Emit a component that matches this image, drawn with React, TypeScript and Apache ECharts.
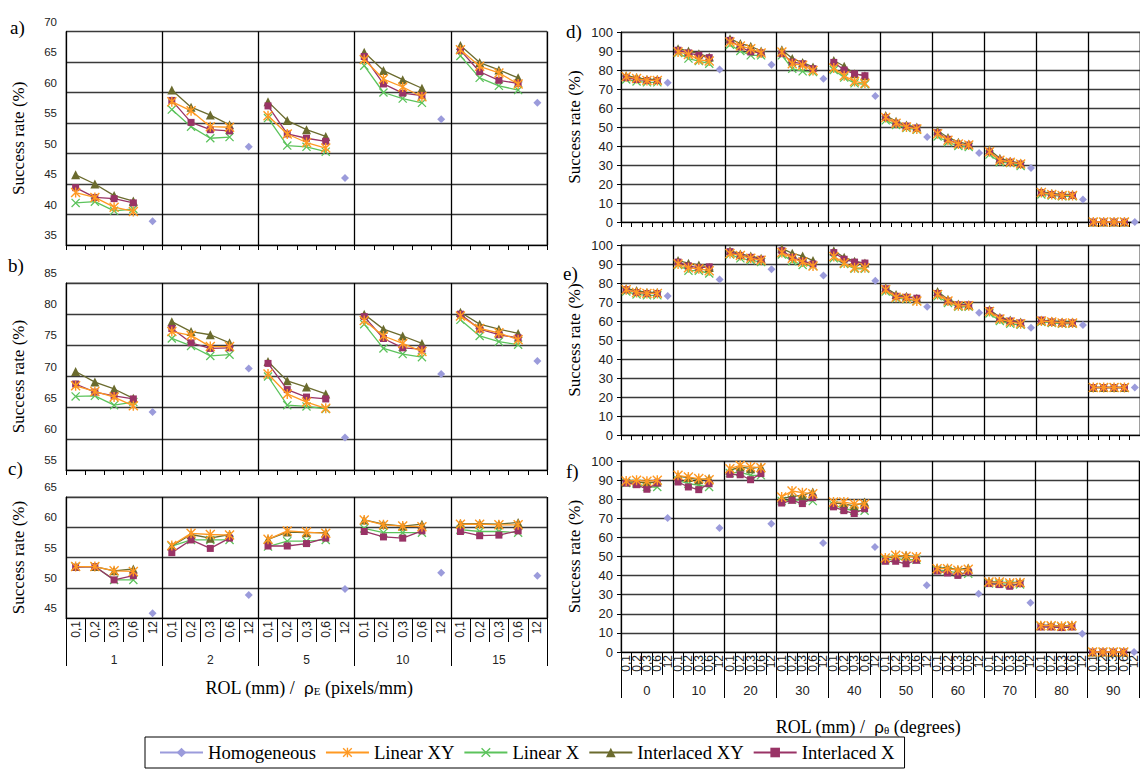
import React, { useEffect, useRef } from 'react';
import * as echarts from 'echarts';

// ---------- categories ----------
const subLabels = ['0,1', '0,2', '0,3', '0,6', '12'];
const leftGroups = ['1', '2', '5', '10', '15'];
const rightGroups = ['0', '10', '20', '30', '40', '50', '60', '70', '80', '90'];
const seriesNames = ['Homogeneous', 'Linear XY', 'Linear X', 'Interlaced XY', 'Interlaced X'];

// ---------- panel a ----------
const aHomog = [38.9, 51.1, 46.0, 55.6, 58.3];
const aLinearXY = [[43.6, 42.8, 41.2, 40.5], [58.5, 57.0, 54.4, 54.3], [56.2, 53.2, 51.8, 50.9], [65.4, 62.2, 60.9, 59.3], [67.0, 64.3, 63.2, 61.4]];
const aLinearX = [[41.9, 42.1, 40.6, 40.9], [57.2, 54.4, 52.5, 52.7], [55.8, 51.3, 51.1, 50.3], [64.4, 60.0, 59.0, 58.3], [66.0, 62.4, 61.1, 60.4]];
const aInterXY = [[46.5, 45.0, 43.1, 42.2], [60.4, 57.6, 56.3, 54.7], [58.5, 55.4, 53.9, 52.8], [66.6, 63.6, 62.1, 60.7], [67.7, 64.9, 63.7, 62.4]];
const aInterX = [[44.4, 42.8, 42.6, 41.9], [58.7, 55.1, 53.9, 53.7], [57.8, 53.2, 52.5, 52.0], [65.9, 61.4, 59.9, 59.5], [66.9, 63.4, 62.0, 61.5]];

// ---------- panel b ----------
const bHomog = [64.3, 71.3, 60.2, 70.4, 72.5];
const bLinearXY = [[68.5, 67.6, 66.7, 65.3], [77.2, 76.6, 74.8, 74.8], [70.4, 67.2, 65.9, 64.9], [79.0, 76.5, 75.3, 74.0], [79.7, 77.7, 77.0, 75.9]];
const bLinearX = [[66.8, 66.9, 65.4, 65.9], [76.1, 74.9, 73.3, 73.5], [70.0, 65.4, 65.2, 64.8], [78.4, 74.5, 73.6, 73.1], [79.1, 76.5, 75.6, 75.1]];
const bInterXY = [[70.8, 69.1, 68.0, 66.5], [78.8, 77.2, 76.7, 75.4], [72.4, 69.3, 68.3, 67.2], [80.0, 77.6, 76.5, 75.3], [80.3, 78.4, 77.6, 76.9]];
const bInterX = [[68.8, 67.5, 66.9, 66.4], [77.7, 75.4, 74.5, 74.6], [72.1, 67.9, 66.7, 66.4], [79.6, 76.1, 74.6, 74.4], [80.0, 77.6, 76.7, 76.2]];

// ---------- panel c ----------
const cHomog = [45.8, 48.8, 49.8, 52.5, 52.0];
const cLinearXY = [[53.5, 53.5, 52.8, 52.7], [57.0, 59.0, 58.8, 58.7], [58.0, 59.4, 59.2, 59.0], [61.2, 60.4, 60.2, 60.1], [60.5, 60.5, 60.4, 60.4]];
const cLinearX = [[53.5, 53.5, 51.3, 51.3], [56.9, 57.9, 57.9, 57.9], [56.8, 57.7, 57.7, 57.9], [59.8, 59.1, 59.1, 59.1], [59.6, 59.3, 59.3, 59.1]];
const cInterXY = [[53.5, 53.5, 52.8, 53.1], [56.9, 58.8, 58.2, 58.8], [58.0, 59.2, 59.1, 59.1], [61.2, 60.5, 60.2, 60.5], [60.6, 60.6, 60.5, 60.8]];
const cInterX = [[53.4, 53.5, 51.3, 52.0], [55.8, 57.9, 56.5, 58.2], [56.9, 56.9, 57.3, 58.2], [59.3, 58.4, 58.2, 59.4], [59.3, 58.6, 58.7, 59.4]];

// ---------- panel d ----------
const dHomog = [73.3, 80.2, 82.8, 75.4, 66.3, 44.7, 36.3, 28.4, 11.9, 0];
const dLinearXY = [[76.5, 75.5, 74.5, 74.5], [89.5, 88.2, 85.4, 84.7], [94.7, 92.6, 91.2, 89.0], [89.5, 83.3, 82.5, 79.8], [81, 77, 74, 73], [55, 52, 50, 49], [46.5, 43, 41, 40.5], [37, 32.5, 31.5, 30.5], [15.5, 14.5, 14, 14], [0, 0, 0, 0]];
const dLinearX = [[75, 74, 73.5, 73.5], [89, 86, 84.7, 83.3], [93.3, 90, 87.7, 87.7], [87.7, 80.7, 79.3, 78.9], [80, 76, 73, 72.5], [53.5, 51, 49.5, 48.5], [45, 42, 40, 39.5], [35.5, 31.5, 31, 29.5], [14.5, 14, 13.5, 13.5], [0, 0, 0, 0]];
const dInterXY = [[77, 76, 75, 75], [91.2, 90, 88.6, 86.8], [96.5, 93.9, 92.5, 90], [90.7, 86, 83.9, 81.6], [85, 82, 78, 77], [56, 53, 51, 50], [48, 44.5, 42, 41], [38, 33.5, 32, 31], [16, 15, 14.5, 14.5], [0, 0, 0, 0]];
const dInterX = [[76, 75, 74.5, 74.5], [90.4, 89, 87.7, 86.5], [95.6, 92.1, 89.5, 89], [88.6, 84.2, 83.3, 80.7], [84, 80, 78, 77], [55, 52, 50.5, 49.5], [47, 43.5, 41, 40.5], [37, 32.5, 31.5, 30.5], [15.5, 14.5, 14, 14], [0, 0, 0, 0]];

// ---------- panel e ----------
const eHomog = [73.2, 81.9, 87.2, 83.9, 81.2, 67.5, 64.4, 56.5, 57.9, 25];
const eLinearXY = [[76.5, 75, 74.5, 74.5], [90, 88, 87.5, 86.5], [95.5, 94.5, 93, 92], [96, 93, 91, 89], [94, 90.5, 88, 88], [76.5, 72.5, 72, 70.5], [74, 70.5, 68, 68], [65, 61, 59.5, 58.5], [60, 59.5, 59, 59], [25, 25, 25, 25]];
const eLinearX = [[75.5, 74, 73.5, 73.5], [89.5, 86.5, 86.5, 85], [95, 93, 92, 91], [95, 91.5, 89.5, 89], [93, 90, 87.5, 87.5], [75.5, 72, 71.5, 70.5], [73, 69.5, 67.5, 67.5], [64, 60, 58.5, 58], [59.5, 59, 58.5, 58.5], [25, 25, 25, 25]];
const eInterXY = [[77, 76, 75, 75], [91.8, 90.4, 89.5, 88.2], [97, 95.3, 94.2, 93], [98.2, 95.6, 94.2, 91.8], [97, 93.5, 91.5, 90.5], [77.5, 74, 73, 72], [75.5, 71.5, 69, 68.5], [66, 62, 60.5, 59.5], [60.5, 60, 59.5, 59.5], [25, 25, 25, 25]];
const eInterX = [[76.5, 75, 74.5, 74.5], [91, 89, 88, 88.5], [96.5, 94.5, 93.5, 92.5], [97, 93.5, 91.5, 90], [96, 92.5, 91, 90.5], [77, 73, 72.5, 72], [74.5, 70.5, 68.5, 68.5], [65.5, 61.5, 60, 59], [60.5, 59.5, 59, 59], [25, 25, 25, 25]];

// ---------- panel f ----------
const fHomog = [70.2, 64.9, 67.2, 57.1, 55, 34.9, 30.5, 25.8, 9.6, 0];
const fLinearXY = [[89.5, 89.9, 89.4, 89.9], [92.5, 91.6, 90.8, 90.2], [96, 97.7, 96.9, 96.5], [81.2, 84.3, 83.4, 82.9], [78.5, 78.5, 77.5, 77.5], [49.2, 50.6, 50.1, 49.7], [43.6, 43.6, 42.8, 43.3], [36.6, 36.6, 36.1, 36.3], [13.8, 13.8, 13.5, 13.8], [0, 0, 0, 0]];
const fLinearX = [[88.5, 88.1, 86.4, 86.4], [89.9, 88.1, 87.3, 86.4], [93.7, 94.2, 92.5, 92.5], [79, 79.7, 79.4, 79], [77, 75, 74, 74], [48, 48.9, 48.3, 48.3], [42.8, 42.4, 41.4, 41], [35.8, 35.8, 35.4, 35.4], [13.5, 13.5, 13.2, 13.5], [0, 0, 0, 0]];
const fInterXY = [[89, 89, 88.5, 89], [92, 91.3, 90.2, 90.8], [95.1, 96.9, 96, 96.9], [80.3, 81.5, 82, 83.8], [78, 77.5, 76.5, 78.5], [48.9, 50.1, 50.6, 49.7], [44, 44, 43.1, 44], [37, 36.6, 36.3, 36.6], [14, 14, 13.5, 14], [0, 0, 0, 0]];
const fInterX = [[88.5, 87.6, 85.2, 88.5], [89, 86.4, 85, 88.1], [93, 92.8, 90.2, 93.4], [78, 79.4, 77.7, 80.8], [76, 74, 72.5, 75], [47.5, 47.5, 46.2, 48], [42.4, 41.4, 40.1, 41.9], [35.8, 35.3, 34.4, 35.8], [13.1, 13.1, 12.8, 13.1], [0, 0, 0, 0]];

// ---------- styles ----------
const ASTERISK = 'path://M4.3,0L5.7,0L5.7,10L4.3,10Z M0,1L1,0L10,9L9,10Z M9,0L10,1L1,10L0,9Z';
const CROSS = 'path://M0,1L1,0L10,9L9,10Z M9,0L10,1L1,10L0,9Z';
const STYLE: Record<string, any> = {
  'Homogeneous': { color: '#9b9bdb', symbol: 'diamond', size: 8, z: 2 },
  'Linear XY': { color: '#ff9922', symbol: ASTERISK, size: 10, z: 7 },
  'Linear X': { color: '#5cc35c', symbol: CROSS, size: 9, z: 3 },
  'Interlaced XY': { color: '#6b6b2e', symbol: 'triangle', size: 9, z: 4 },
  'Interlaced X': { color: '#993366', symbol: 'rect', size: 7, z: 5 },
};

const SANS = 'Liberation Sans, Arial, sans-serif';
const SERIF = 'Liberation Serif, Times New Roman, serif';

type Panel = {
  left: number; top: number; width: number; height: number;
  min: number; max: number; interval: number;
  groups: string[]; leftSide: boolean; showCats: boolean;
  homog: number[]; lxy: number[][]; lx: number[][]; ixy: number[][]; ix: number[][];
};

const panels: Panel[] = [
  { left: 66, top: 31.5, width: 481, height: 213.5, min: 35, max: 70, interval: 5, groups: leftGroups, leftSide: true, showCats: false, homog: aHomog, lxy: aLinearXY, lx: aLinearX, ixy: aInterXY, ix: aInterX },
  { left: 66, top: 283, width: 481, height: 187, min: 55, max: 85, interval: 5, groups: leftGroups, leftSide: true, showCats: false, homog: bHomog, lxy: bLinearXY, lx: bLinearX, ixy: bInterXY, ix: bInterX },
  { left: 66, top: 497, width: 481, height: 121, min: 45, max: 65, interval: 5, groups: leftGroups, leftSide: true, showCats: true, homog: cHomog, lxy: cLinearXY, lx: cLinearX, ixy: cInterXY, ix: cInterX },
  { left: 621, top: 32, width: 527, height: 190, min: 0, max: 100, interval: 10, groups: rightGroups, leftSide: false, showCats: false, homog: dHomog, lxy: dLinearXY, lx: dLinearX, ixy: dInterXY, ix: dInterX },
  { left: 621, top: 245, width: 527, height: 190, min: 0, max: 100, interval: 10, groups: rightGroups, leftSide: false, showCats: false, homog: eHomog, lxy: eLinearXY, lx: eLinearX, ixy: eInterXY, ix: eInterX },
  { left: 621, top: 461, width: 527, height: 191, min: 0, max: 100, interval: 10, groups: rightGroups, leftSide: false, showCats: true, homog: fHomog, lxy: fLinearXY, lx: fLinearX, ixy: fInterXY, ix: fInterX },
];

function buildOption() {
  const grid: any[] = [];
  const xAxis: any[] = [];
  const yAxis: any[] = [];
  const series: any[] = [];

  panels.forEach((p, i) => {
    grid.push({ left: p.left, top: p.top, width: p.width, height: p.height, show: true, borderColor: '#777', borderWidth: 1, containLabel: false });
    const cats: string[] = [];
    p.groups.forEach(() => subLabels.forEach((s) => cats.push(s)));
    xAxis.push({
      type: 'category', gridIndex: i, data: cats, position: 'bottom', boundaryGap: true,
      axisLine: { show: true, lineStyle: { color: '#000', width: 1 } },
      axisTick: { show: true, interval: 0, length: p.showCats ? (p.leftSide ? 24 : 23) : 5, lineStyle: { color: '#000', width: 1 } },
      axisLabel: { show: p.showCats, interval: 0, rotate: 90, fontSize: 12, color: '#222', margin: 3, fontFamily: SANS, hideOverlap: false },
      splitLine: { show: false },
    });
    xAxis.push({
      type: 'category', gridIndex: i, data: p.groups, position: 'bottom', boundaryGap: true,
      axisLine: { show: false },
      axisTick: { show: true, interval: 0, length: p.showCats ? (p.leftSide ? 48 : 46) : 5, lineStyle: { color: '#000', width: 1 } },
      axisLabel: { show: p.showCats, interval: 0, margin: p.leftSide ? 36 : 32, fontSize: p.leftSide ? 12 : 13, color: '#222', fontFamily: SANS },
      splitLine: { show: true, interval: 0, lineStyle: { color: '#000', width: 1.3 } },
    });
    yAxis.push({
      type: 'value', gridIndex: i, min: p.min, max: p.max, interval: p.interval,
      axisLine: { show: true, lineStyle: { color: '#000', width: 1 } },
      axisTick: { show: !p.leftSide, length: 4, lineStyle: { color: '#000' } },
      axisLabel: p.leftSide
        ? { fontSize: 11.5, color: '#222', margin: 9, fontFamily: SANS, verticalAlign: 'bottom', padding: [0, 0, 4, 0] }
        : { fontSize: 13, color: '#222', margin: 8, fontFamily: SANS },
      splitLine: { show: true, lineStyle: { color: '#3a3a3a', width: 1.3 } },
      name: 'Success rate (%)', nameLocation: 'middle', nameGap: p.leftSide ? 39 : 38,
      nameTextStyle: { fontFamily: SERIF, fontSize: 17, color: '#000' },
    });

    const groupVals: Record<string, number[][]> = { 'Linear XY': p.lxy, 'Linear X': p.lx, 'Interlaced XY': p.ixy, 'Interlaced X': p.ix };
    seriesNames.forEach((name) => {
      const st = STYLE[name];
      const data: (number | null)[] = [];
      if (name === 'Homogeneous') {
        p.homog.forEach((v) => { data.push(null, null, null, null, v); });
      } else {
        groupVals[name].forEach((g) => { g.forEach((v) => data.push(v)); data.push(null); });
      }
      series.push({
        type: 'line', name, xAxisIndex: i * 2, yAxisIndex: i, data,
        symbol: st.symbol, symbolSize: st.size, showSymbol: true, showAllSymbol: true, connectNulls: false,
        lineStyle: { color: st.color, width: 1.3 }, itemStyle: { color: st.color },
        z: st.z, silent: true, emphasis: { disabled: true }, clip: false,
      });
    });
  });

  const letters = [
    { t: 'a)', x: 10, y: 29 }, { t: 'b)', x: 8, y: 267 }, { t: 'c)', x: 8, y: 470 },
    { t: 'd)', x: 566, y: 33 }, { t: 'e)', x: 563, y: 275 }, { t: 'f)', x: 566, y: 473 },
  ];
  const graphic: any[] = letters.map((l) => ({
    type: 'text', left: l.x, top: l.y - 11,
    style: { text: l.t, fontFamily: SERIF, fontSize: 19, fill: '#000' },
  }));
  graphic.push({
    type: 'text', x: 309, y: 688,
    style: {
      text: '{n|ROL (mm) /  }{r|ρ}{s|E}{n| (pixels/mm)}', align: 'center', verticalAlign: 'middle',
      rich: {
        n: { fontFamily: SERIF, fontSize: 18, fill: '#000' },
        r: { fontFamily: SANS, fontSize: 17, fill: '#000' },
        s: { fontFamily: SERIF, fontSize: 11, fill: '#000', padding: [6, 0, 0, 0] },
      },
    },
  });
  graphic.push({
    type: 'text', x: 868, y: 727,
    style: {
      text: '{n|ROL (mm) /  }{r|ρ}{s|θ}{n| (degrees)}', align: 'center', verticalAlign: 'middle',
      rich: {
        n: { fontFamily: SERIF, fontSize: 18, fill: '#000' },
        r: { fontFamily: SANS, fontSize: 17, fill: '#000' },
        s: { fontFamily: SERIF, fontSize: 11, fill: '#000', padding: [6, 0, 0, 0] },
      },
    },
  });

  return {
    animation: false,
    backgroundColor: '#fff',
    grid, xAxis, yAxis, series, graphic,
    legend: {
      data: seriesNames, left: 145, top: 737, orient: 'horizontal',
      itemWidth: 43, itemHeight: 12, itemGap: 9,
      padding: [6, 10, 6, 14], borderColor: '#000', borderWidth: 1,
      textStyle: { fontFamily: SERIF, fontSize: 18.7, color: '#000' },
      selectedMode: false,
    },
  };
}

export default function App() {
  const ref = useRef<HTMLDivElement>(null);
  useEffect(() => {
    if (!ref.current) return;
    const chart = echarts.init(ref.current, undefined, { renderer: 'svg' });
    chart.setOption(buildOption() as any);
    return () => chart.dispose();
  }, []);
  return <div ref={ref} style={{ position: 'absolute', left: 0, top: 0, width: 1140, height: 773 }} />;
}
